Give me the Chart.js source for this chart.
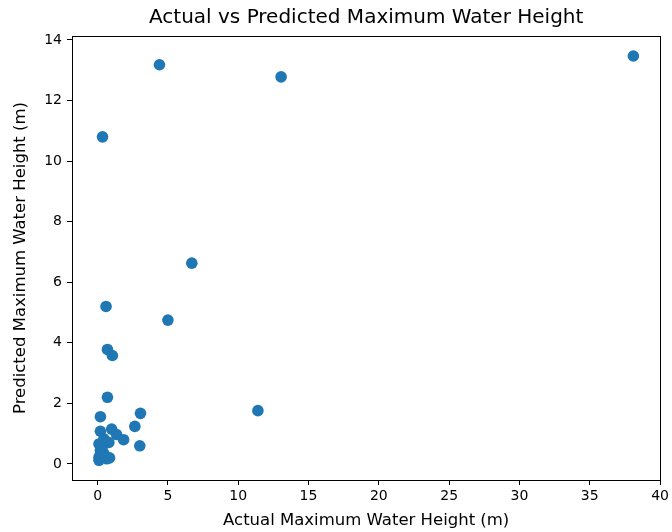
<!DOCTYPE html>
<html><head><meta charset="utf-8">
<script src="https://cdn.jsdelivr.net/npm/chart.js@4/dist/chart.umd.min.js"></script>
<style>html,body{margin:0;padding:0;background:#fff}#wrap{width:672px;height:532px}</style>
</head><body><div id="wrap"><canvas id="c" width="672" height="532"></canvas></div>
<script>
const actual = [38.1, 4.4, 13.05, 0.35, 6.7, 0.6, 5.0, 0.7, 1.05, 0.7, 11.4, 3.05, 0.2, 2.65, 0.2, 1.0, 1.35, 1.85, 3.0, 0.45, 0.1, 0.8, 0.2, 0.1, 0.1, 0.65, 0.85, 0.45, 0.33];
const predicted = [13.47, 13.18, 12.78, 10.8, 6.63, 5.2, 4.75, 3.78, 3.58, 2.2, 1.76, 1.67, 1.56, 1.24, 1.08, 1.15, 0.97, 0.8, 0.6, 0.83, 0.66, 0.71, 0.44, 0.22, 0.12, 0.17, 0.2, 0.34, 0.55];
const xTicks = [0, 5, 10, 15, 20, 25, 30, 35, 40];
const yTicks = [0, 2, 4, 6, 8, 10, 12, 14];
const titleText = 'Actual vs Predicted Maximum Water Height';

const FONT = "'DejaVu Sans', sans-serif";
const frame = {
  id: 'frame',
  afterDraw(chart) {
    const a = chart.chartArea, ctx = chart.ctx;
    ctx.save();
    ctx.strokeStyle = '#000';
    ctx.lineWidth = 1;
    ctx.strokeRect(Math.round(a.left) + 0.5, Math.round(a.top) + 0.5, Math.round(a.right - a.left), Math.round(a.bottom - a.top));
    ctx.fillStyle = '#000';
    ctx.font = "20px " + FONT;
    ctx.textAlign = 'center';
    ctx.textBaseline = 'middle';
    ctx.fillText(titleText, (a.left + a.right) / 2, 18);
    ctx.restore();
  }
};
new Chart(document.getElementById('c'), {
  type: 'scatter',
  data: {
    datasets: [{
      data: actual.map((x, i) => ({x: x, y: predicted[i]})),
      backgroundColor: '#1f77b4',
      borderColor: '#1f77b4',
      borderWidth: 0,
      pointRadius: 5.8,
      pointHoverRadius: 5.8
    }]
  },
  options: {
    responsive: false,
    animation: false,
    layout: {padding: {right: 9, left: 0, bottom: 0, top: 36}},
    plugins: {
      legend: {display: false},
      tooltip: {enabled: false},
      title: {display: false}
    },
    scales: {
      x: {
        type: 'linear', min: -1.82, max: 40.02,
        afterBuildTicks: s => { s.ticks = xTicks.map(v => ({value: v})); },
        afterFit: s => { s.height = 52; },
        ticks: {color: '#000', font: {family: FONT, size: 14}, padding: 3, maxRotation: 0, autoSkip: false},
        grid: {drawOnChartArea: false, color: '#000', tickLength: 5, tickWidth: 1},
        border: {color: '#000'},
        title: {display: true, text: 'Actual Maximum Water Height (m)', color: '#000', font: {family: FONT, size: 16.5}, padding: {top: 0, bottom: 1}}
      },
      y: {
        type: 'linear', min: -0.53, max: 14.13,
        afterBuildTicks: s => { s.ticks = yTicks.map(v => ({value: v})); },
        afterFit: s => { s.width = 72; },
        ticks: {color: '#000', font: {family: FONT, size: 14}, padding: 5, autoSkip: false},
        grid: {drawOnChartArea: false, color: '#000', tickLength: 5, tickWidth: 1},
        border: {color: '#000'},
        title: {display: true, text: 'Predicted Maximum Water Height (m)', color: '#000', font: {family: FONT, size: 16.5}, padding: {top: 11, bottom: 0}}
      }
    }
  },
  plugins: [frame]
});
</script></body></html>
